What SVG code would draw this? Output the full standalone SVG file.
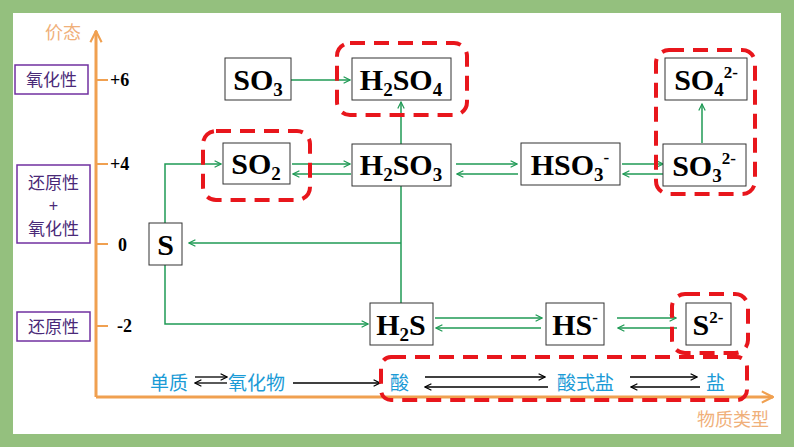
<svg xmlns="http://www.w3.org/2000/svg" width="794" height="447" viewBox="0 0 794 447">
<style>
.node rect{fill:#fff;stroke:#333;stroke-width:1}
.f{font-family:"Liberation Serif","Times New Roman",serif;font-weight:bold;font-size:30px;fill:#000;text-anchor:middle}
.sub{font-size:19px}
.sup{font-size:17px}
.g{stroke:#1f9a55;stroke-width:1.5;fill:none}
.k{stroke:#000;stroke-width:1.3;fill:none}
.red{fill:none;stroke:#e8161c;stroke-width:4;stroke-dasharray:15 9}
.prop rect{fill:#fff;stroke:#7030a0;stroke-width:1.5}
.pt{font-family:"Noto Sans CJK SC",sans-serif;font-size:17px;fill:#4a2a78;text-anchor:middle}
.pp{font-family:"Liberation Sans",sans-serif;font-size:16px;fill:#4a2a78;text-anchor:middle}
.val{font-family:"Liberation Serif",serif;font-weight:bold;font-size:18px;fill:#000}
.bt{font-family:"Noto Sans CJK SC",sans-serif;font-size:19px;fill:#1b9bd6}
.ax{font-family:"Noto Sans CJK SC",sans-serif;font-size:18px;fill:#f0b07a}
</style>
<defs>
<marker id="ga" viewBox="0 0 10 10" refX="9" refY="5" markerWidth="8" markerHeight="8" markerUnits="userSpaceOnUse" orient="auto"><path d="M1,1 L9,5 L1,9" fill="none" stroke="#1f9a55" stroke-width="1.5"/></marker>
<marker id="ka" viewBox="0 0 10 10" refX="9" refY="5" markerWidth="8" markerHeight="8" markerUnits="userSpaceOnUse" orient="auto"><path d="M1,1 L9,5 L1,9" fill="none" stroke="#000" stroke-width="1.5"/></marker>
<marker id="oa" viewBox="0 0 10 10" refX="9" refY="5" markerWidth="14" markerHeight="14" markerUnits="userSpaceOnUse" orient="auto"><path d="M1,1 L9,5 L1,9" fill="none" stroke="#f0a050" stroke-width="1.5"/></marker>
</defs>
<rect x="0" y="0" width="794" height="447" fill="#94c07e"/>
<rect x="13" y="13" width="768" height="421" fill="#fff"/>

<g id="axes">
<path d="M96,397 V31" stroke="#f0a050" stroke-width="3" fill="none" marker-end="url(#oa)"/>
<path d="M96,397 H773" stroke="#f0a050" stroke-width="3" fill="none" marker-end="url(#oa)"/>
<path d="M96,80 H108 M96,164 H108 M96,244 H108 M96,326 H108" stroke="#f0a050" stroke-width="2"/>
<text class="ax" x="45" y="39">价态</text>
<text class="ax" x="697" y="426">物质类型</text>
<text class="val" x="110" y="86">+6</text>
<text class="val" x="110" y="170">+4</text>
<text class="val" x="118" y="251">0</text>
<text class="val" x="117" y="332">-2</text>
</g>

<g id="prop-ox" class="prop"><rect x="15" y="65" width="73" height="29"/><text class="pt" x="51.5" y="86">氧化性</text></g>
<g id="prop-both" class="prop"><rect x="17" y="165" width="73" height="78"/><text class="pt" x="53.5" y="189">还原性</text><text class="pp" x="53.5" y="211">+</text><text class="pt" x="53.5" y="235">氧化性</text></g>
<g id="prop-red" class="prop"><rect x="17" y="312" width="73" height="29"/><text class="pt" x="53.5" y="333">还原性</text></g>

<g id="connectors">
<path class="g" d="M291,80 H350" marker-end="url(#ga)"/>
<path class="g" d="M401,144 V102" marker-end="url(#ga)"/>
<path class="g" d="M292,164 H350" marker-end="url(#ga)"/>
<path class="g" d="M351,174 H293" marker-end="url(#ga)"/>
<path class="g" d="M456,164 H517" marker-end="url(#ga)"/>
<path class="g" d="M518,174 H457" marker-end="url(#ga)"/>
<path class="g" d="M622,164 H663" marker-end="url(#ga)"/>
<path class="g" d="M664,174 H623" marker-end="url(#ga)"/>
<path class="g" d="M702,143 V104" marker-end="url(#ga)"/>
<path class="g" d="M165,223 V164 H221" marker-end="url(#ga)"/>
<path class="g" d="M401,186 V303"/>
<path class="g" d="M401,243 H189" marker-end="url(#ga)"/>
<path class="g" d="M165,265 V324 H368" marker-end="url(#ga)"/>
<path class="g" d="M435,318 H542" marker-end="url(#ga)"/>
<path class="g" d="M541,328 H436" marker-end="url(#ga)"/>
<path class="g" d="M617,318 H676" marker-end="url(#ga)"/>
<path class="g" d="M677,328 H618" marker-end="url(#ga)"/>
<path class="k" d="M195,377 H227" marker-end="url(#ka)"/>
<path class="k" d="M227,383 H195" marker-end="url(#ka)"/>
<path class="k" d="M293,383 H380" marker-end="url(#ka)"/>
<path class="k" d="M425,377 H545" marker-end="url(#ka)"/>
<path class="k" d="M548,387 H425" marker-end="url(#ka)"/>
<path class="k" d="M630,377 H697" marker-end="url(#ka)"/>
<path class="k" d="M700,387 H631" marker-end="url(#ka)"/>
</g>

<g id="n-SO3" class="node"><rect x="225" y="58" width="66" height="42"/><text class="f" x="258" y="90">SO<tspan class="sub" dy="6">3</tspan></text></g>
<g id="n-H2SO4" class="node"><rect x="352" y="58" width="99" height="42"/><text class="f" x="401" y="90">H<tspan class="sub" dy="6">2</tspan><tspan dy="-6">SO</tspan><tspan class="sub" dy="6">4</tspan></text></g>
<g id="n-SO2" class="node"><rect x="223" y="143" width="67" height="41"/><text class="f" x="256" y="174">SO<tspan class="sub" dy="6">2</tspan></text></g>
<g id="n-H2SO3" class="node"><rect x="352" y="144" width="99" height="42"/><text class="f" x="401" y="175">H<tspan class="sub" dy="6">2</tspan><tspan dy="-6">SO</tspan><tspan class="sub" dy="6">3</tspan></text></g>
<g id="n-HSO3" class="node"><rect x="521" y="143" width="99" height="42"/><text class="f" x="570" y="175">HSO<tspan class="sub" dy="6">3</tspan><tspan class="sup" dy="-18">-</tspan></text></g>
<g id="n-SO3-2" class="node"><rect x="663" y="144" width="83" height="42"/><text class="f" x="704" y="176">SO<tspan class="sub" dy="6">3</tspan><tspan class="sup" dy="-18">2-</tspan></text></g>
<g id="n-SO4-2" class="node"><rect x="665" y="58" width="82" height="42"/><text class="f" x="706" y="90">SO<tspan class="sub" dy="6">4</tspan><tspan class="sup" dy="-18">2-</tspan></text></g>
<g id="n-S" class="node"><rect x="149" y="223" width="33" height="42"/><text class="f" x="165.5" y="255">S</text></g>
<g id="n-H2S" class="node"><rect x="370" y="303" width="63" height="42"/><text class="f" x="401" y="335">H<tspan class="sub" dy="6">2</tspan><tspan dy="-6">S</tspan></text></g>
<g id="n-HS" class="node"><rect x="546" y="303" width="58" height="42"/><text class="f" x="575" y="335">HS<tspan class="sup" dy="-12">-</tspan></text></g>
<g id="n-S2" class="node"><rect x="686" y="303" width="45" height="42"/><text class="f" x="708" y="335">S<tspan class="sup" dy="-12">2-</tspan></text></g>

<g id="highlights">
<rect class="red" x="337" y="43" width="130" height="72" rx="13"/>
<rect class="red" x="203" y="131" width="107" height="69" rx="13"/>
<rect class="red" x="656" y="50" width="99" height="144" rx="13"/>
<rect class="red" x="672" y="294" width="76" height="59" rx="13"/>
<rect class="red" x="381" y="357" width="366" height="43" rx="10"/>
</g>

<g id="types">
<text class="bt" x="150" y="390">单质</text>
<text class="bt" x="228" y="390">氧化物</text>
<text class="bt" x="390" y="390">酸</text>
<text class="bt" x="557" y="390">酸式盐</text>
<text class="bt" x="706" y="390">盐</text>
</g>
</svg>
